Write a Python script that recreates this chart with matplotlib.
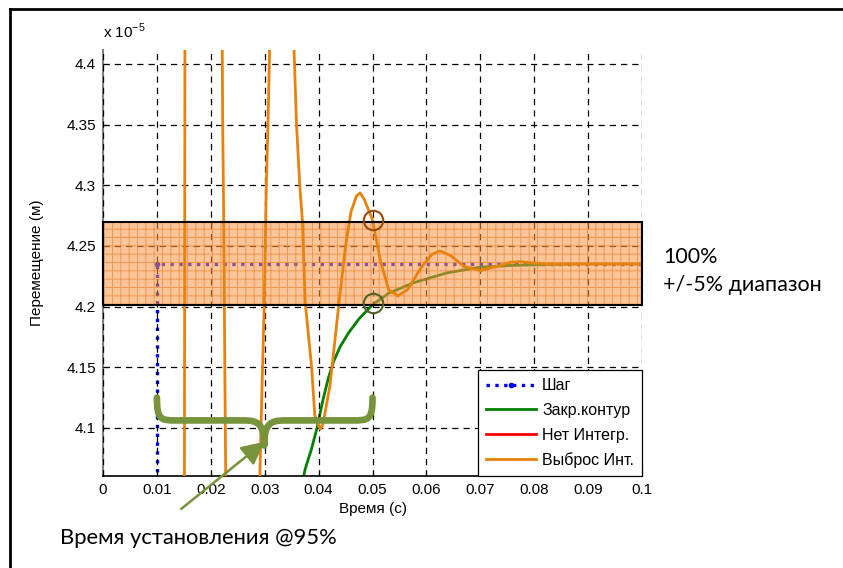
import matplotlib
matplotlib.use('Agg')
import numpy as np
from matplotlib import pyplot as plt
from matplotlib.patches import Rectangle, PathPatch, FancyArrowPatch
from matplotlib.path import Path
from matplotlib.lines import Line2D

plt.rcParams['font.family'] = ['Liberation Sans', 'DejaVu Sans']
plt.rcParams['hatch.linewidth'] = 0.7

# ---- data (displacement in units of 1e-5 m, time in s) ----
step_t = [0.0, 0.01, 0.01, 0.1]
step_y = [0.0, 0.0, 4.235, 4.235]

closed_t = [0.0340, 0.0365, 0.0375, 0.0387, 0.0397, 0.0408, 0.0418, 0.0428,
            0.0440, 0.0455, 0.0475, 0.0500, 0.0530, 0.0575, 0.0638, 0.0700,
            0.0760, 0.0824, 0.0870]
closed_y = [3.990, 4.045, 4.066, 4.083, 4.100, 4.123, 4.141, 4.155,
            4.167, 4.178, 4.190, 4.2015, 4.211, 4.2195, 4.2278, 4.2325,
            4.2340, 4.2347, 4.235]

noint_t = []
noint_y = []

over_t = [0.0120, 0.0151, 0.0152, 0.0185,
          0.0221, 0.0222, 0.0224, 0.0226, 0.0228, 0.0260,
          0.0290, 0.0293, 0.0299, 0.0303, 0.0306, 0.0310, 0.0332,
          0.0353, 0.0359, 0.0365, 0.0370, 0.0375, 0.0387, 0.0393, 0.0403,
          0.0408, 0.0421, 0.0428, 0.0438, 0.0450, 0.0460, 0.0470, 0.0477,
          0.0485, 0.0500, 0.0515, 0.0530, 0.0547, 0.0565, 0.0590, 0.0610,
          0.0625, 0.0645, 0.0670, 0.0700, 0.0730, 0.0755, 0.0775, 0.0800,
          0.0830, 0.1000]
over_y = [3.000, 4.040, 4.430, 5.500,
          4.430, 4.350, 4.270, 4.150, 4.040, 3.200,
          4.040, 4.100, 4.200, 4.300, 4.350, 4.430, 5.000,
          4.430, 4.350, 4.300, 4.270, 4.204, 4.150, 4.110, 4.099,
          4.103, 4.135, 4.163, 4.204, 4.250, 4.278, 4.291, 4.2937,
          4.288, 4.2715, 4.237, 4.214, 4.2088, 4.214, 4.232, 4.243,
          4.2459, 4.242, 4.233, 4.2297, 4.233, 4.2365, 4.2371, 4.2358,
          4.235, 4.235]

band_lo, band_hi = 4.201, 4.2698
labels = ['Шаг', 'Закр.контур', 'Нет Интегр.', 'Выброс Инт.']

fig = plt.figure(figsize=(8.43, 5.68), dpi=100)
ax = fig.add_axes([0.1222, 0.162, 0.6394, 0.750])

orange = '#E8820C'
ax.plot(step_t, step_y, ':', color='#0000FF', lw=2.4, marker='.', ms=6,
        markevery=[2], label=labels[0], zorder=2)
ax.plot(closed_t, closed_y, '-', color='#008000', lw=2, label=labels[1], zorder=2)
ax.plot(noint_t, noint_y, '-', color='#FF0000', lw=2, label=labels[2], zorder=2)
ax.plot(over_t, over_y, '-', color=orange, lw=2, label=labels[3], zorder=4)

# +/-5% band
ax.add_patch(Rectangle((0, band_lo), 0.1, band_hi - band_lo, facecolor='#F79646',
                       edgecolor='#E8741A', hatch='++', lw=0, alpha=0.55, zorder=3))
ax.add_patch(Rectangle((0, band_lo), 0.1, band_hi - band_lo, fill=False,
                       edgecolor='black', lw=1.5, zorder=5, clip_on=False))

# circles at 0.05 s
ax.plot([0.05], [4.2715], 'o', ms=14, mfc='none', mec='#984807', mew=1.5, zorder=6)
ax.plot([0.05], [4.2028], 'o', ms=14, mfc='none', mec='#4F6228', mew=1.5, zorder=6)

# curly brace
bx0, bx1, bxm = 0.0100, 0.0500, 0.0299
by_top, by_mid, by_tip = 4.125, 4.1062, 4.0855
r = 0.0037
verts = [(bx0, by_top), (bx0, by_mid), (bx0 + r * 0.2, by_mid), (bx0 + r, by_mid),
         (bxm - r, by_mid),
         (bxm - 0.3 * r, by_mid), (bxm, by_mid - 0.003), (bxm, by_tip),
         (bxm, by_mid - 0.003), (bxm + 0.3 * r, by_mid), (bxm + r, by_mid),
         (bx1 - r, by_mid),
         (bx1 - r * 0.2, by_mid), (bx1, by_mid), (bx1, by_top)]
codes = [Path.MOVETO, Path.CURVE4, Path.CURVE4, Path.CURVE4,
         Path.LINETO,
         Path.CURVE4, Path.CURVE4, Path.CURVE4,
         Path.CURVE4, Path.CURVE4, Path.CURVE4,
         Path.LINETO,
         Path.CURVE4, Path.CURVE4, Path.CURVE4]
ax.add_patch(PathPatch(Path(verts, codes), fill=False, edgecolor='#77933C',
                       lw=4.8, capstyle='round', joinstyle='round', zorder=7))

ax.set_xlim(0, 0.1)
ax.set_ylim(4.0604, 4.4115)
ax.set_xticks(np.arange(0, 0.1001, 0.01))
ax.set_xticklabels(['0', '0.01', '0.02', '0.03', '0.04', '0.05', '0.06', '0.07',
                    '0.08', '0.09', '0.1'])
ax.set_yticks([4.1, 4.15, 4.2, 4.25, 4.3, 4.35, 4.4])
ax.set_yticklabels(['4.1', '4.15', '4.2', '4.25', '4.3', '4.35', '4.4'])
ax.tick_params(direction='in', length=4, labelsize=11, colors='black', pad=5)
ax.grid(True, color='black', linestyle=(0, (5, 4)), lw=0.9)
ax.set_axisbelow(False)
for s in ['top', 'right']:
    ax.spines[s].set_visible(False)
ax.spines['left'].set_color('#808080')
ax.spines['left'].set_linewidth(1.5)
ax.spines['bottom'].set_linewidth(1.2)

ax.set_xlabel('Время (с)', fontsize=11, labelpad=4)
ax.set_ylabel('Перемещение (м)', fontsize=11, labelpad=16)
ax.text(0.0, 1.022, r'x 10$^{\mathregular{-5}}$', transform=ax.transAxes,
        fontsize=11, ha='left', va='bottom')

leg = ax.legend(loc='lower right', fontsize=11.5, frameon=True, fancybox=False,
                edgecolor='black', borderaxespad=0, handlelength=3.1,
                handletextpad=0.4, framealpha=1, borderpad=0.5, labelspacing=0.6)
leg.get_frame().set_linewidth(0.9)
leg.set_zorder(10)

# text annotations
fig.text(663 / 843, 1 - 257 / 568, '100%', fontsize=15.5, family='Lato',
         ha='left', va='center')
fig.text(663 / 843, 1 - 285 / 568, '+/-5% диапазон', fontsize=15.5, family='Lato',
         ha='left', va='center')
fig.text(60 / 843, 1 - 538 / 568, 'Время установления @95%', fontsize=15.8,
         family='Lato', ha='left', va='center')

fig.add_artist(FancyArrowPatch((179 / 843, 1 - 510.7 / 568), (266.7 / 843, 1 - 440 / 568),
                               transform=fig.transFigure, arrowstyle='-|>,head_length=14,head_width=7',
                               color='#77933C', lw=1.8, mutation_scale=1))

# outer frame
fig.add_artist(Line2D([10 / 843, 1], [1 - 9 / 568, 1 - 9 / 568], color='black', lw=2,
                      transform=fig.transFigure))
fig.add_artist(Line2D([10 / 843, 10 / 843], [1 - 9 / 568, 0], color='black', lw=2,
                      transform=fig.transFigure))

fig.savefig('out.png', dpi=100)
